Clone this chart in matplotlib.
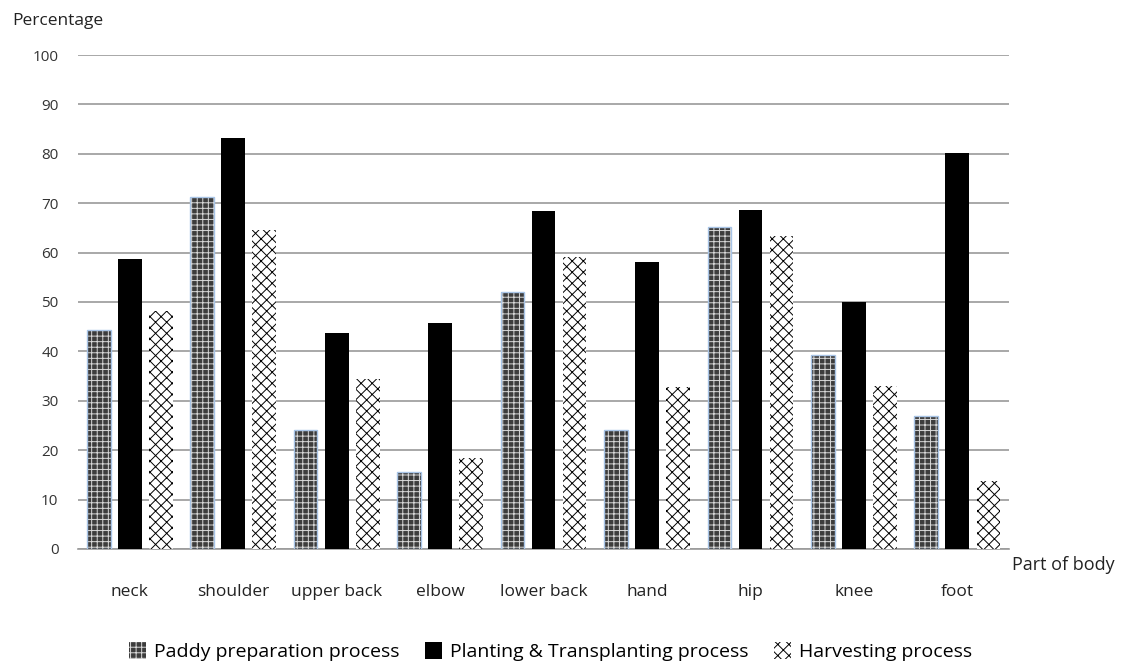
import matplotlib
matplotlib.use("Agg")
import matplotlib.pyplot as plt
import numpy as np

plt.rcParams['font.family'] = ['Open Sans', 'DejaVu Sans']

parts = ["neck", "shoulder", "upper back", "elbow", "lower back", "hand", "hip", "knee", "foot"]
paddy = [44.3, 71.3, 24.1, 15.6, 52.0, 24.1, 65.2, 39.3, 26.9]
planting = [58.7, 83.2, 43.7, 45.7, 68.4, 58.1, 68.6, 49.9, 80.1]
harvest = [48.2, 64.6, 34.4, 18.4, 59.1, 32.8, 63.4, 32.9, 13.8]
series_names = ["Paddy preparation process", "Planting & Transplanting process", "Harvesting process"]
yticks = list(range(0, 101, 10))

fig = plt.figure(figsize=(11.3, 6.66), dpi=100)
ax = fig.add_axes([0.069, 0.1757, 0.824, 0.7417])

x = np.arange(len(parts))
w = 0.23
off = 0.30

plt.rcParams['hatch.linewidth'] = 0.7

# paddy: dark stipple with a light blue outline
b1 = ax.bar(x - off, paddy, w, facecolor='#3c3c3c', edgecolor='#d8d8d8', hatch='+++', linewidth=0, zorder=3)
ax.bar(x - off, paddy, w, facecolor='none', edgecolor='#a8c4e6', linewidth=1.0, zorder=4)
b2 = ax.bar(x, planting, w, facecolor='black', edgecolor='black', linewidth=0, zorder=3)
b3 = ax.bar(x + off, harvest, w, facecolor='white', edgecolor='black', hatch='xxx', linewidth=0, zorder=3)

ax.set_xlim(-0.5, len(parts) - 0.5)
ax.set_ylim(0, 100)
ax.set_yticks(yticks)
ax.set_yticklabels([str(t) for t in yticks], fontsize=11, color='#333333')
ax.yaxis.grid(True, color='#9a9a9a', linewidth=1.2, zorder=0)
ax.set_axisbelow(True)
for s in ['top', 'right', 'left']:
    ax.spines[s].set_visible(False)
ax.spines['bottom'].set_color('#9a9a9a')
ax.spines['bottom'].set_linewidth(1.2)
ax.tick_params(axis='y', length=0, pad=14)
ax.tick_params(axis='x', length=0, pad=25)
ax.set_xticks(x)
ax.set_xticklabels(parts, fontsize=12.5, color='#222222')

fig.text(0.011, 0.968, "Percentage", fontsize=12.5, color='#222222', ha='left', va='center')
fig.text(0.896, 0.152, "Part of body", fontsize=13, color='#222222', ha='left', va='center')

leg = fig.legend([b1, b2, b3], series_names, loc='center', bbox_to_anchor=(0.487, 0.022),
                 ncol=3, frameon=False, fontsize=14, handlelength=0.9, handleheight=1.0,
                 handletextpad=0.4, columnspacing=1.3)

fig.savefig("out.png", dpi=100, facecolor='white')
